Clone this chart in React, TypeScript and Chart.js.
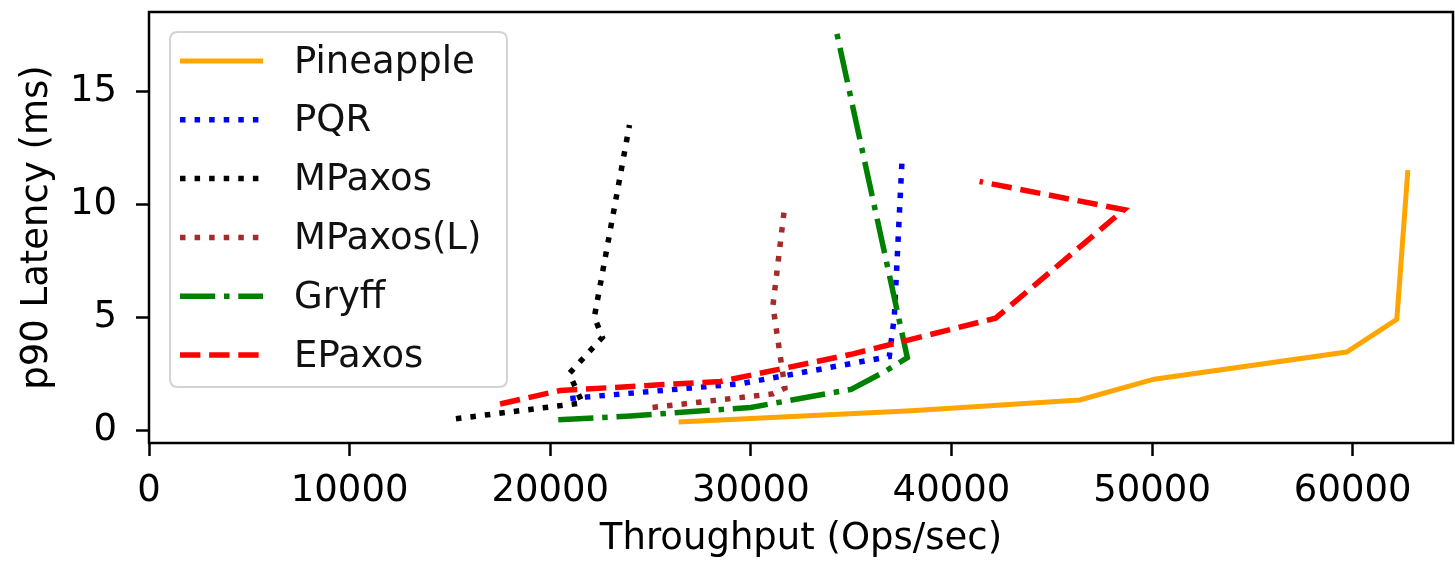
import React, { useEffect, useRef } from 'react';
import { Chart, registerables } from 'chart.js';

Chart.register(...registerables);

// ---- Data ----
const seriesNames = ['Pineapple', 'PQR', 'MPaxos', 'MPaxos(L)', 'Gryff', 'EPaxos'];

const pineappleX = [26400, 38000, 46400, 50100, 59700, 62200, 62750];
const pineappleY = [0.35, 0.85, 1.33, 2.25, 3.45, 4.9, 11.5];

const pqrX = [21000, 29500, 36900, 37150, 37550];
const pqrY = [1.4, 2.05, 3.25, 5.0, 12.2];

const mpaxosX = [15300, 21600, 20950, 22600, 22200, 23950];
const mpaxosY = [0.5, 1.2, 2.5, 4.1, 5.0, 13.5];

const mpaxosLX = [25100, 31100, 31700, 31100, 31700];
const mpaxosLY = [1.0, 1.6, 1.85, 5.5, 10.0];

const gryffX = [20400, 24000, 30000, 35000, 36700, 37800, 34250];
const gryffY = [0.45, 0.62, 1.0, 1.8, 2.6, 3.2, 17.7];

const epaxosX = [17500, 20500, 28500, 35000, 42200, 48600, 41400];
const epaxosY = [1.15, 1.75, 2.15, 3.35, 4.95, 9.75, 11.0];

const xTicks = [0, 10000, 20000, 30000, 40000, 50000, 60000];
const yTicks = [0, 5, 10, 15];

const xTitle = 'Throughput (Ops/sec)';
const yTitle = 'p90 Latency (ms)';

// ---- Styles ----
const FONT = 'DejaVu Sans';
const FS = 37;
const LW = 5.5;
const styles = [
  { color: '#FFA500', dash: [] as number[], width: 5 },
  { color: '#0000FF', dash: [LW, LW * 1.65], width: LW },
  { color: '#000000', dash: [LW, LW * 1.65], width: LW },
  { color: '#A52A2A', dash: [LW, LW * 1.65], width: LW },
  { color: '#008000', dash: [LW * 6.4, LW * 1.6, LW, LW * 1.6], width: LW },
  { color: '#FF0000', dash: [LW * 3.7, LW * 1.6], width: LW },
];

const xsList = [pineappleX, pqrX, mpaxosX, mpaxosLX, gryffX, epaxosX];
const ysList = [pineappleY, pqrY, mpaxosY, mpaxosLY, gryffY, epaxosY];

const framePlugin = {
  id: 'mplFrame',
  afterDraw(chart: any) {
    const { ctx, chartArea } = chart;
    ctx.save();
    ctx.strokeStyle = '#000';
    ctx.lineWidth = 2.5;
    ctx.strokeRect(chartArea.left, chartArea.top, chartArea.right - chartArea.left, chartArea.bottom - chartArea.top);
    ctx.restore();
  },
};

const legendPlugin = {
  id: 'mplLegend',
  afterDraw(chart: any) {
    const ctx = chart.ctx as CanvasRenderingContext2D;
    ctx.save();
    const bx = 170, by = 32, bw = 337, bh = 355, r = 8;
    ctx.beginPath();
    ctx.moveTo(bx + r, by);
    ctx.lineTo(bx + bw - r, by);
    ctx.quadraticCurveTo(bx + bw, by, bx + bw, by + r);
    ctx.lineTo(bx + bw, by + bh - r);
    ctx.quadraticCurveTo(bx + bw, by + bh, bx + bw - r, by + bh);
    ctx.lineTo(bx + r, by + bh);
    ctx.quadraticCurveTo(bx, by + bh, bx, by + bh - r);
    ctx.lineTo(bx, by + r);
    ctx.quadraticCurveTo(bx, by, bx + r, by);
    ctx.closePath();
    ctx.fillStyle = 'rgba(255,255,255,0.8)';
    ctx.fill();
    ctx.strokeStyle = '#d3d3d3';
    ctx.lineWidth = 2;
    ctx.stroke();

    chart.data.datasets.forEach((ds: any, i: number) => {
      const y = 61 + i * 58.8;
      ctx.beginPath();
      ctx.setLineDash(ds.borderDash || []);
      ctx.lineWidth = ds.borderWidth;
      ctx.strokeStyle = ds.borderColor;
      ctx.lineCap = 'butt';
      ctx.moveTo(180, y);
      ctx.lineTo(263, y);
      ctx.stroke();
      ctx.setLineDash([]);
      ctx.fillStyle = '#111';
      ctx.font = `${FS}px "${FONT}"`;
      ctx.textBaseline = 'middle';
      ctx.textAlign = 'left';
      ctx.fillText(ds.label, 294, y + 2);
    });
    ctx.restore();
  },
};

export default function App() {
  const canvasRef = useRef<HTMLCanvasElement | null>(null);

  useEffect(() => {
    if (!canvasRef.current) return;
    const datasets = seriesNames.map((name, i) => ({
      label: name,
      data: xsList[i].map((x, j) => ({ x, y: ysList[i][j] })),
      borderColor: styles[i].color,
      backgroundColor: styles[i].color,
      borderWidth: styles[i].width,
      borderDash: styles[i].dash,
      pointRadius: 0,
      pointHoverRadius: 0,
      tension: 0,
      fill: false,
      order: seriesNames.length - 1 - i,
    }));

    const chart = new Chart(canvasRef.current, {
      type: 'line',
      data: { datasets },
      options: {
        animation: false,
        responsive: false,
        maintainAspectRatio: false,
        events: [],
        layout: { padding: { top: 12, right: 2, left: 0, bottom: 0 } },
        plugins: {
          legend: { display: false },
          tooltip: { enabled: false },
          title: { display: false },
        },
        scales: {
          x: {
            type: 'linear',
            min: 0,
            max: 65000,
            border: { display: false },
            grid: {
              display: true,
              drawOnChartArea: false,
              drawTicks: true,
              tickLength: 13,
              tickColor: '#000',
              tickWidth: 2.5,
            },
            ticks: {
              color: '#000',
              font: { family: FONT, size: FS },
              padding: 13,
              maxRotation: 0,
              autoSkip: false,
              callback: (v: any) => String(v),
            },
            afterBuildTicks: (scale: any) => {
              scale.ticks = xTicks.map((v) => ({ value: v }));
            },
            afterFit: (scale: any) => {
              scale.height = 119;
              scale.paddingLeft = 0;
              scale.paddingRight = 0;
            },
            title: {
              display: true,
              text: xTitle,
              color: '#000',
              font: { family: FONT, size: FS },
              padding: { top: 0, bottom: 0 },
            },
          },
          y: {
            type: 'linear',
            min: -0.575,
            max: 18.5,
            border: { display: false },
            grid: {
              display: true,
              drawOnChartArea: false,
              drawTicks: true,
              tickLength: 13,
              tickColor: '#000',
              tickWidth: 2.5,
            },
            ticks: {
              color: '#000',
              font: { family: FONT, size: FS },
              padding: 19,
              autoSkip: false,
              callback: (v: any) => String(v),
            },
            afterBuildTicks: (scale: any) => {
              scale.ticks = yTicks.map((v) => ({ value: v }));
            },
            afterFit: (scale: any) => {
              scale.width = 149;
              scale.paddingTop = 0;
              scale.paddingBottom = 0;
            },
            title: {
              display: true,
              text: yTitle,
              color: '#000',
              font: { family: FONT, size: FS },
              padding: { top: 15, bottom: 0 },
            },
          },
        },
      },
      plugins: [framePlugin, legendPlugin],
    });
    return () => chart.destroy();
  }, []);

  return (
    <div style={{ position: 'absolute', left: 0, top: 0, width: 1455, height: 562, background: '#fff' }}>
      <canvas ref={canvasRef} width={1455} height={562} style={{ display: 'block' }} />
    </div>
  );
}
